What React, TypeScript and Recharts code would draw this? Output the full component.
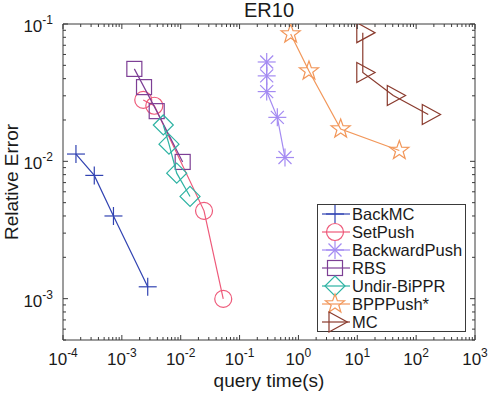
import React from 'react';
import { ScatterChart, Scatter, XAxis, YAxis, ReferenceLine, Legend } from 'recharts';

// ---- data ----
const xMajorTicks = [1e-4, 1e-3, 1e-2, 1e-1, 1, 10, 100, 1000];
const xMajorLabels = ['-4', '-3', '-2', '-1', '0', '1', '2', '3'];
const yMajorTicks = [1e-3, 1e-2, 1e-1];
const yMajorLabels = ['-3', '-2', '-1'];
const minorMultipliers = [2, 3, 4, 5, 6, 7, 8, 9];

const backMC = [
  { x: 1.66e-4, y: 0.0113 },
  { x: 3.4e-4, y: 0.0079 },
  { x: 7.2e-4, y: 0.004 },
  { x: 2.75e-3, y: 0.00122 },
];
const setPush = [
  { x: 2.31e-3, y: 0.028 },
  { x: 3.56e-3, y: 0.0254 },
  { x: 0.0249, y: 0.00436 },
  { x: 0.0528, y: 0.000996 },
];
const backwardPush = [
  { x: 0.289, y: 0.0529 },
  { x: 0.289, y: 0.0419 },
  { x: 0.289, y: 0.0322 },
  { x: 0.438, y: 0.0209 },
  { x: 0.591, y: 0.01066 },
];
const rbs = [
  { x: 1.63e-3, y: 0.0471 },
  { x: 2.38e-3, y: 0.0347 },
  { x: 3.91e-3, y: 0.0232 },
  { x: 0.0108, y: 0.0099 },
];
const undirBiPPR = [
  { x: 5.06e-3, y: 0.0184 },
  { x: 6.32e-3, y: 0.01333 },
  { x: 8.55e-3, y: 0.0082 },
  { x: 0.0144, y: 0.00555 },
];
const bppPush = [
  { x: 0.738, y: 0.0846 },
  { x: 1.51, y: 0.0455 },
  { x: 5.22, y: 0.0172 },
  { x: 51.8, y: 0.012 },
];
const mc = [
  { x: 12.4, y: 0.0865 },
  { x: 12.4, y: 0.0444 },
  { x: 40.9, y: 0.0302 },
  { x: 160.7, y: 0.0219 },
];

const series = [
  { name: 'BackMC', color: '#3143B2', shape: 'plus', data: backMC },
  { name: 'SetPush', color: '#EE5A7A', shape: 'circle', data: setPush },
  { name: 'BackwardPush', color: '#A48BF2', shape: 'asterisk', data: backwardPush },
  { name: 'RBS', color: '#7D3F95', shape: 'square', data: rbs },
  { name: 'Undir-BiPPR', color: '#2EB3A3', shape: 'diamond', data: undirBiPPR },
  { name: 'BPPPush*', color: '#F2975A', shape: 'star', data: bppPush },
  { name: 'MC', color: '#8A3B2E', shape: 'triangle', data: mc },
];

const xTicks = xMajorTicks.flatMap((t, i) =>
  i < xMajorTicks.length - 1 ? [t, ...minorMultipliers.map((m) => m * t)] : [t]
);
const yTicks = [5e-4, 6e-4, 7e-4, 8e-4, 9e-4].concat(
  yMajorTicks.flatMap((t, i) =>
    i < yMajorTicks.length - 1 ? [t, ...minorMultipliers.map((m) => m * t)] : [t]
  )
);

// ---- styling ----
const W = 491;
const H = 393;
const PLOT = { left: 63, top: 24, right: 475, bottom: 340 };
const AXIS = '#3a3a3a';
const TEXT = '#1a1a1a';
const FONT = "'Liberation Sans', Arial, Helvetica, sans-serif";
const SW = 1.2;

function Marker({ type, cx, cy, color }: { type: string; cx: number; cy: number; color: string }) {
  const common = { fill: 'none', stroke: color, strokeWidth: SW };
  switch (type) {
    case 'plus':
      return (
        <g {...common}>
          <line x1={cx - 9} x2={cx + 9} y1={cy} y2={cy} />
          <line x1={cx} x2={cx} y1={cy - 9} y2={cy + 9} />
        </g>
      );
    case 'circle':
      return <circle cx={cx} cy={cy} r={8.5} {...common} />;
    case 'asterisk':
      return (
        <g {...common}>
          <line x1={cx - 9} x2={cx + 9} y1={cy} y2={cy} />
          <line x1={cx} x2={cx} y1={cy - 9} y2={cy + 9} />
          <line x1={cx - 6.5} x2={cx + 6.5} y1={cy - 6.5} y2={cy + 6.5} />
          <line x1={cx - 6.5} x2={cx + 6.5} y1={cy + 6.5} y2={cy - 6.5} />
        </g>
      );
    case 'square':
      return <rect x={cx - 7.5} y={cy - 7.5} width={15} height={15} {...common} />;
    case 'diamond':
      return (
        <polygon
          points={`${cx},${cy - 10} ${cx + 10},${cy} ${cx},${cy + 10} ${cx - 10},${cy}`}
          {...common}
        />
      );
    case 'star': {
      const pts: string[] = [];
      for (let k = 0; k < 10; k++) {
        const r = k % 2 === 0 ? 10 : 4;
        const a = -Math.PI / 2 + (k * Math.PI) / 5;
        pts.push(`${cx + r * Math.cos(a)},${cy + r * Math.sin(a)}`);
      }
      return <polygon points={pts.join(' ')} {...common} />;
    }
    case 'triangle':
      return (
        <polygon
          points={`${cx - 6},${cy - 10} ${cx + 12.3},${cy} ${cx - 6},${cy + 10}`}
          {...common}
        />
      );
    default:
      return null;
  }
}

function isMajor(v: number) {
  const lg = Math.log10(v);
  return Math.abs(lg - Math.round(lg)) < 1e-6;
}

function XTick(props: any) {
  const { x, y, payload } = props;
  const v = payload.value;
  const major = isMajor(v);
  const len = major ? 5 : 3;
  const idx = xMajorTicks.findIndex((t) => Math.abs(Math.log10(t) - Math.log10(v)) < 1e-6);
  return (
    <g>
      <line x1={x} x2={x} y1={y} y2={y - len} stroke={AXIS} strokeWidth={1} />
      <line x1={x} x2={x} y1={PLOT.top} y2={PLOT.top + len} stroke={AXIS} strokeWidth={1} />
      {major && idx >= 0 && (
        <text x={x} y={y + 25} textAnchor="middle" fontSize={17} fill={TEXT} fontFamily={FONT}>
          <tspan>10</tspan>
          <tspan dy={-8} fontSize={12}>{xMajorLabels[idx]}</tspan>
        </text>
      )}
    </g>
  );
}

function YTick(props: any) {
  const { x, y, payload } = props;
  const v = payload.value;
  const major = isMajor(v);
  const len = major ? 5 : 3;
  const idx = yMajorTicks.findIndex((t) => Math.abs(Math.log10(t) - Math.log10(v)) < 1e-6);
  return (
    <g>
      <line x1={x} x2={x + len} y1={y} y2={y} stroke={AXIS} strokeWidth={1} />
      <line x1={PLOT.right} x2={PLOT.right - len} y1={y} y2={y} stroke={AXIS} strokeWidth={1} />
      {major && idx >= 0 && (
        <text x={x - 10} y={y + 8} textAnchor="end" fontSize={17} fill={TEXT} fontFamily={FONT}>
          <tspan>10</tspan>
          <tspan dy={-8} fontSize={12}>{yMajorLabels[idx]}</tspan>
        </text>
      )}
    </g>
  );
}

const XLabel = () => (
  <text x={(PLOT.left + PLOT.right) / 2} y={387} textAnchor="middle" fontSize={19} fill={TEXT} fontFamily={FONT}>
    query time(s)
  </text>
);

const YLabel = () => {
  const cx = 17.5;
  const cy = (PLOT.top + PLOT.bottom) / 2;
  return (
    <text
      x={cx}
      y={cy}
      transform={`rotate(-90, ${cx}, ${cy})`}
      textAnchor="middle"
      fontSize={19}
      fill={TEXT}
      fontFamily={FONT}
    >
      Relative Error
    </text>
  );
};

const LegendBox = () => (
  <svg width={150} height={129} style={{ display: 'block' }}>
    <rect x={0.5} y={0.5} width={148} height={127} fill="#fff" stroke={AXIS} strokeWidth={1} />
    {series.map((s, i) => {
      const cy = 10 + i * 18;
      return (
        <g key={s.name}>
          <line x1={5} x2={33} y1={cy} y2={cy} stroke={s.color} strokeWidth={SW} />
          <Marker type={s.shape} cx={18} cy={cy} color={s.color} />
          <text x={35} y={cy + 6} fontSize={16.5} fill={TEXT} fontFamily={FONT}>
            {s.name}
          </text>
        </g>
      );
    })}
  </svg>
);

export default function App() {
  return (
    <div style={{ position: 'absolute', left: 0, top: 0, width: W, height: H, background: '#fff' }}>
      <div
        style={{
          position: 'absolute',
          left: PLOT.left,
          top: 0,
          width: PLOT.right - PLOT.left,
          textAlign: 'center',
          fontSize: 20,
          lineHeight: '20px',
          fontFamily: FONT,
          color: TEXT,
          zIndex: 2,
        }}
      >
        ER10
      </div>
      <ScatterChart
        width={W}
        height={H}
        margin={{ top: PLOT.top, right: W - PLOT.right, left: 0, bottom: 0 }}
        style={{ fontFamily: FONT }}
      >
        <XAxis
          type="number"
          dataKey="x"
          scale="log"
          domain={[1e-4, 1000]}
          allowDataOverflow
          ticks={xTicks}
          interval={0}
          tick={<XTick />}
          tickLine={false}
          tickSize={0}
          tickMargin={0}
          height={H - PLOT.bottom}
          stroke={AXIS}
          axisLine={{ stroke: AXIS, strokeWidth: 1 }}
          label={XLabel}
        />
        <YAxis
          type="number"
          dataKey="y"
          scale="log"
          domain={[5e-4, 0.1]}
          allowDataOverflow
          ticks={yTicks}
          interval={0}
          tick={<YTick />}
          tickLine={false}
          tickSize={0}
          tickMargin={0}
          width={PLOT.left}
          axisLine={{ stroke: AXIS, strokeWidth: 1 }}
          label={YLabel}
        />
        <ReferenceLine y={0.1} stroke={AXIS} strokeWidth={1} />
        <ReferenceLine x={1000} stroke={AXIS} strokeWidth={1} />
        {series.map((s) => (
          <Scatter
            key={s.name}
            name={s.name}
            data={s.data}
            line={{ stroke: s.color, strokeWidth: SW }}
            lineType="joint"
            isAnimationActive={false}
            shape={(p: any) => <Marker type={s.shape} cx={p.cx} cy={p.cy} color={s.color} />}
          />
        ))}
        <Legend
          layout="vertical"
          align="center"
          verticalAlign="middle"
          content={LegendBox}
          wrapperStyle={{ position: 'absolute', left: 317, top: 204, width: 150, height: 129 }}
        />
      </ScatterChart>
    </div>
  );
}
